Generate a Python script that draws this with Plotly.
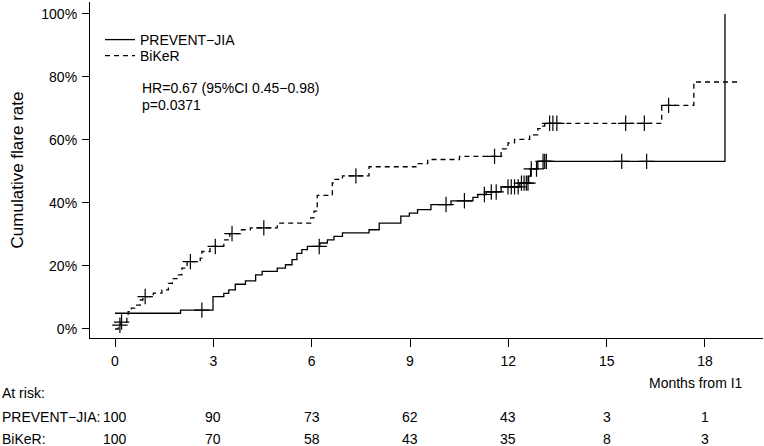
import numpy as np
import plotly.graph_objects as go

# ---- data ----
prevent_t = [0, 2.0, 2.99, 3.32, 3.47, 3.67, 3.98, 4.29, 4.49, 4.95, 5.2, 5.4, 5.55, 5.7,
             5.87, 6.25, 6.48, 6.68, 6.94, 7.75, 8.06, 8.72, 8.98, 9.23, 9.64, 10.25,
             10.92, 11.07, 11.33, 11.78, 12.35, 12.62, 12.68, 12.9, 18.61]
prevent_y = [5.0, 6.0, 10.3, 11.3, 12.4, 14.2, 15.3, 17.2, 18.3, 19.3, 20.4, 22.0, 24.0, 25.2,
             26.2, 27.3, 28.3, 29.4, 30.5, 31.5, 33.6, 35.8, 36.8, 37.9, 39.5, 40.7,
             41.8, 42.7, 43.5, 45.1, 46.3, 48.5, 50.8, 53.2, 100.0]
prevent_end = 18.61
prevent_cens = [2.65, 6.23, 10.1, 10.66, 11.27, 11.48, 11.63, 11.99, 12.09, 12.19, 12.3,
                12.4, 12.48, 12.55, 12.6, 12.7, 12.86, 13.06, 13.11, 13.16, 15.46, 16.22]

biker_t = [0, 0.1, 0.18, 0.36, 0.4, 0.5, 0.6, 0.77, 0.85, 1.17, 1.43, 1.63, 1.75, 1.89, 2.04,
           2.2, 2.6, 2.65, 2.9, 3.32, 3.5, 3.83, 4.13, 4.95, 5.97, 6.07, 6.17, 6.63, 6.68,
           6.94, 7.75, 9.18, 9.54, 10.51, 11.78, 11.99, 12.19, 12.65, 12.9, 13.0, 13.11,
           16.68, 17.66]
biker_y = [0, 1.2, 2.2, 3.7, 5.5, 6.6, 7.6, 9.2, 10.3, 11.4, 12.4, 14.5, 16.0, 17.2, 19.3,
           21.4, 22.5, 24.6, 26.2, 28.3, 30.3, 31.5, 32.1, 33.6, 35.3, 37.4, 42.4, 46.4, 47.5,
           48.6, 51.5, 52.5, 53.8, 54.8, 57.2, 59.1, 60.2, 61.6, 63.6, 64.4, 65.3,
           71.0, 78.4]
biker_end = 18.99
biker_cens = [0.15, 0.2, 0.92, 2.3, 3.06, 3.57, 4.54, 7.35, 11.58, 13.26, 13.36, 13.48,
              15.58, 16.15, 16.89]

x_ticks = [0, 3, 6, 9, 12, 15, 18]
y_ticks = [0, 20, 40, 60, 80, 100]
risk_prevent = [100, 90, 73, 62, 43, 3, 1]
risk_biker = [100, 70, 58, 43, 35, 8, 3]

FONT = "Liberation Sans, Arial, sans-serif"


def step_value(ts, ys, t):
    i = np.searchsorted(np.asarray(ts), t, side="right") - 1
    return ys[max(i, 0)]


fig = go.Figure()

# curves
fig.add_trace(go.Scatter(x=prevent_t + [prevent_end], y=prevent_y + [prevent_y[-1]],
                         mode="lines", line=dict(color="black", width=1.3, shape="hv"),
                         name="PREVENT\u2212JIA", legend="legend"))
fig.add_trace(go.Scatter(x=biker_t + [biker_end], y=biker_y + [biker_y[-1]],
                         mode="lines", line=dict(color="black", width=1.3, shape="hv",
                                                 dash="5px,4px"),
                         name="BiKeR", legend="legend2"))
# censor marks
fig.add_trace(go.Scatter(x=prevent_cens,
                         y=[step_value(prevent_t, prevent_y, t) for t in prevent_cens],
                         mode="markers", showlegend=False,
                         marker=dict(symbol="cross-thin", size=11, color="black",
                                     line=dict(width=1.2, color="black"))))
fig.add_trace(go.Scatter(x=biker_cens,
                         y=[step_value(biker_t, biker_y, t) for t in biker_cens],
                         mode="markers", showlegend=False,
                         marker=dict(symbol="cross-thin", size=11, color="black",
                                     line=dict(width=1.2, color="black"))))

H_PLOT = 336.0


def py(pix):
    return (338 - pix) / H_PLOT


annotations = [
    dict(text="HR=0.67 (95%CI 0.45\u22120.98)", x=(140 - 90) / 673.0, y=py(88), xref="paper",
         yref="paper", xanchor="left", yanchor="middle", showarrow=False),
    dict(text="p=0.0371", x=(140 - 90) / 673.0, y=py(105), xref="paper", yref="paper",
         xanchor="left", yanchor="middle", showarrow=False),
    dict(text="Months from I1", x=17.72, y=py(383), xref="x", yref="paper",
         xanchor="center", yanchor="middle", showarrow=False),
    dict(text="At risk:", x=-90 / 673.0, y=py(393), xref="paper", yref="paper",
         xanchor="left", yanchor="middle", showarrow=False),
    dict(text="PREVENT\u2212JIA:", x=-90 / 673.0, y=py(417), xref="paper", yref="paper",
         xanchor="left", yanchor="middle", showarrow=False),
    dict(text="BiKeR:", x=-90 / 673.0, y=py(439), xref="paper", yref="paper",
         xanchor="left", yanchor="middle", showarrow=False),
]
for t, a, b in zip(x_ticks, risk_prevent, risk_biker):
    annotations.append(dict(text=str(a), x=t, y=py(417), xref="x", yref="paper",
                            xanchor="center", yanchor="middle", showarrow=False))
    annotations.append(dict(text=str(b), x=t, y=py(439), xref="x", yref="paper",
                            xanchor="center", yanchor="middle", showarrow=False))

leg_common = dict(xanchor="left", yanchor="middle", bgcolor="rgba(0,0,0,0)",
                  font=dict(size=14), borderwidth=0)

fig.update_layout(
    width=764, height=446,
    margin=dict(l=90, r=1, t=2, b=108, autoexpand=False),
    paper_bgcolor="white", plot_bgcolor="white",
    font=dict(family=FONT, size=14, color="black"),
    showlegend=True,
    legend=dict(x=(100 - 90) / 673.0, y=py(40), **leg_common),
    legend2=dict(x=(100 - 90) / 673.0, y=py(56), **leg_common),
    annotations=annotations,
    xaxis=dict(range=[-0.763, 19.77], tickvals=x_ticks, ticktext=[str(v) for v in x_ticks],
               showgrid=False, zeroline=False, showline=True, linecolor="black", linewidth=1.2,
               ticks="outside", ticklen=8, tickwidth=1.2, tickcolor="black", automargin=False,
               ticklabelstandoff=2),
    yaxis=dict(range=[-2.86, 103.8], tickvals=y_ticks, ticktext=[f"{v}%" for v in y_ticks],
               showgrid=False, zeroline=False, showline=True, linecolor="black", linewidth=1.2,
               ticks="outside", ticklen=7, tickwidth=1.2, tickcolor="black", automargin=False,
               ticklabelstandoff=2,
               title=dict(text="Cumulative flare rate", standoff=13)),
)

fig.write_html("out.html", config={"displayModeBar": False},
               post_script="document.body.style.margin='0';")
